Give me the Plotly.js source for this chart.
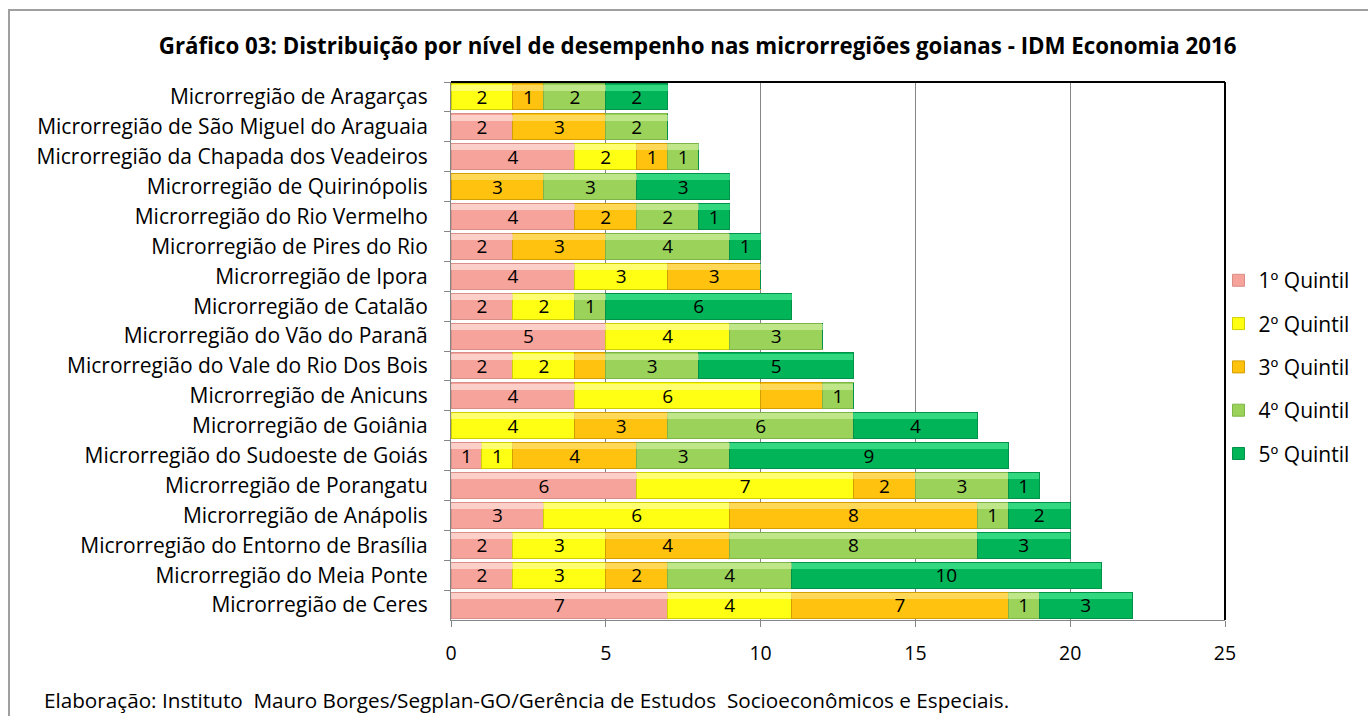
<!DOCTYPE html>
<html>
<head>
<meta charset="utf-8">
<script src="https://cdn.plot.ly/plotly-3.0.1.min.js"></script>
<style>
  html, body { margin: 0; padding: 0; background: #fff; }
  #frame { position: absolute; left: 8px; top: 9px; width: 1400px; height: 760px;
           border-left: 2px solid #a0a0a0; border-top: 2px solid #a0a0a0; pointer-events: none; }
  #chart { position: absolute; left: 0; top: 0; width: 1368px; height: 716px; }
</style>
</head>
<body>
<div id="chart"></div>
<div id="frame"></div>
<script>
const regions = [
  "Microrregião de Aragarças",
  "Microrregião de São Miguel do Araguaia",
  "Microrregião da Chapada dos Veadeiros",
  "Microrregião de Quirinópolis",
  "Microrregião do Rio Vermelho",
  "Microrregião de Pires do Rio",
  "Microrregião de Ipora",
  "Microrregião de Catalão",
  "Microrregião do Vão do Paranã",
  "Microrregião do Vale do Rio Dos Bois",
  "Microrregião de Anicuns",
  "Microrregião de Goiânia",
  "Microrregião do Sudoeste de Goiás",
  "Microrregião de Porangatu",
  "Microrregião de Anápolis",
  "Microrregião do Entorno de Brasília",
  "Microrregião do Meia Ponte",
  "Microrregião de Ceres"
];
const q1 = [0, 2, 4, 0, 4, 2, 4, 2, 5, 2, 4, 0, 1, 6, 3, 2, 2, 7];
const q2 = [2, 0, 2, 0, 0, 0, 3, 2, 4, 2, 6, 4, 1, 7, 6, 3, 3, 4];
const q3 = [1, 3, 1, 3, 2, 3, 3, 0, 0, 1, 2, 3, 4, 2, 8, 4, 2, 7];
const q4 = [2, 2, 1, 3, 2, 4, 0, 1, 3, 3, 1, 6, 3, 3, 1, 8, 4, 1];
const q5 = [2, 0, 0, 3, 1, 1, 0, 6, 0, 5, 0, 4, 9, 1, 2, 3, 10, 3];
// segments whose data label is not shown in the original (series index, region index)
const hiddenLabels = [[2, 9], [2, 10]];

const seriesNames = ["1º Quintil", "2º Quintil", "3º Quintil", "4º Quintil", "5º Quintil"];
const seriesValues = [q1, q2, q3, q4, q5];
const fills = ["#F5A39B", "#FFFF14", "#FFC20E", "#9BD35A", "#00B457"];
const edges = ["#D98E87", "#D0D000", "#D39E00", "#7FB548", "#00914A"];
const shines = ["rgba(255,225,220,0.7)", "rgba(255,255,190,0.55)", "rgba(255,235,150,0.55)", "rgba(215,245,170,0.6)", "rgba(90,245,160,0.55)"];

const FONT = "'Open Sans', Lato, sans-serif";

const traces = seriesValues.map((vals, s) => ({
  type: "bar",
  orientation: "h",
  name: seriesNames[s],
  legendgroup: "g" + s,
  y: regions,
  x: vals,
  text: vals.map((v, i) => (v > 0 && !hiddenLabels.some(h => h[0] === s && h[1] === i)) ? String(v) : ""),
  textposition: "inside",
  insidetextanchor: "middle",
  textangle: 0,
  constraintext: "none",
  textfont: { family: FONT, size: 19, color: "#000" },
  marker: { color: fills[s], line: { color: edges[s], width: 1 } },
  hoverinfo: "x+y+name"
}));

// light bevel highlight along the top of each segment (same data, overlay axis)
const shineTraces = seriesValues.map((vals, s) => ({
  type: "bar",
  orientation: "h",
  yaxis: "y2",
  y: regions,
  x: vals,
  offset: -0.41,
  width: 0.2,
  showlegend: false,
  hoverinfo: "skip",
  marker: { color: shines[s], line: { width: 0 } }
}));

const layout = {
  width: 1368, height: 716,
  margin: { l: 451, r: 143, t: 82, b: 96 },
  paper_bgcolor: "rgba(0,0,0,0)",
  plot_bgcolor: "#fff",
  barmode: "stack",
  bargap: 0.13,
  font: { family: FONT, size: 19, color: "#000" },
  title: {
    text: "<b>Gráfico 03: Distribuição por nível de desempenho nas microrregiões goianas - IDM Economia 2016</b>",
    font: { family: FONT, size: 22.3, color: "#000" },
    x: 0.51, xanchor: "center", xref: "container",
    y: 0.936, yanchor: "middle", yref: "container"
  },
  xaxis: {
    range: [0, 25], dtick: 5, tick0: 0,
    showgrid: true, gridcolor: "#868686", gridwidth: 1,
    showline: true, linecolor: "#868686", linewidth: 1,
    ticks: "outside", ticklen: 6, tickcolor: "#868686",
    ticklabelstandoff: 10,
    tickfont: { family: FONT, size: 19.5, color: "#000" },
    zeroline: false, fixedrange: true
  },
  yaxis: {
    type: "category",
    autorange: "reversed",
    showline: true, linecolor: "#868686", linewidth: 1,
    ticks: "outside", ticklen: 6, tickcolor: "#868686", tickson: "boundaries",
    ticklabelstandoff: 18,
    tickfont: { family: FONT, size: 21, color: "#000" },
    showgrid: false, fixedrange: true
  },
  yaxis2: {
    type: "category",
    overlaying: "y",
    matches: "y",
    autorange: "reversed",
    visible: false,
    fixedrange: true
  },
  legend: {
    x: 0.9916, xanchor: "left",
    y: 0.47, yanchor: "middle",
    traceorder: "grouped",
    tracegroupgap: 13,
    font: { family: FONT, size: 21, color: "#000" },
    bgcolor: "rgba(0,0,0,0)",
    itemwidth: 30
  },
  shapes: [
    { type: "line", xref: "paper", yref: "paper", x0: 0, x1: 1, y0: 1, y1: 1, line: { color: "#000", width: 2 } },
    { type: "line", xref: "paper", yref: "paper", x0: 1, x1: 1, y0: 0, y1: 1, line: { color: "#000", width: 2 } }
  ],
  annotations: [
    {
      text: "Elaboração: Instituto  Mauro Borges/Segplan-GO/Gerência de Estudos  Socioeconômicos e Especiais.",
      xref: "paper", yref: "paper",
      x: (42 - 451) / 774, xanchor: "left",
      y: 1 - (700 - 82) / 538, yanchor: "middle",
      showarrow: false,
      font: { family: FONT, size: 20.7, color: "#000" }
    }
  ],
  showlegend: true
};

Plotly.newPlot("chart", traces.concat(shineTraces), layout, { displayModeBar: false, staticPlot: true });
</script>
</body>
</html>
